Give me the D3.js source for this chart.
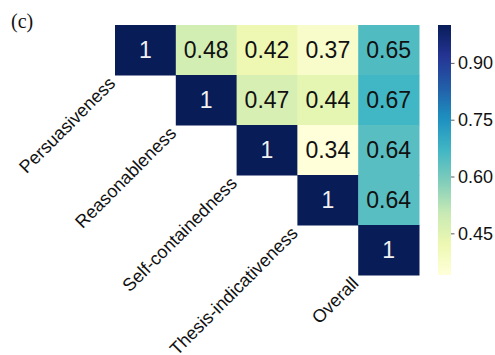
<!DOCTYPE html>
<html>
<head>
<meta charset="utf-8">
<script src="https://cdn.jsdelivr.net/npm/d3@7"></script>
<style>
  html, body { margin: 0; padding: 0; background: #fff; }
  svg { display: block; }
</style>
</head>
<body>
<svg id="chart" width="495" height="355"></svg>
<script>
// Criteria compared in the correlation matrix
const labels = ["Persuasiveness", "Reasonableness", "Self-containedness", "Thesis-indicativeness", "Overall"];

// Upper triangle of the correlation matrix, one row per criterion (starting at the diagonal)
const row0 = [1, 0.48, 0.42, 0.37, 0.65];
const row1 = [1, 0.47, 0.44, 0.67];
const row2 = [1, 0.34, 0.64];
const row3 = [1, 0.64];
const row4 = [1];
const rows = [row0, row1, row2, row3, row4];

// Colour bar
const colorTicks = [0.45, 0.60, 0.75, 0.90];
const vmin = 0.34, vmax = 1.0;

// YlGnBu, linear through the nine ColorBrewer anchors
const ylgnbu = ["#ffffd9","#edf8b1","#c7e9b4","#7fcdbb","#41b6c4","#1d91c0","#225ea8","#253494","#081d58"];
const color = d3.scaleLinear()
  .domain(ylgnbu.map((_, i) => vmin + (vmax - vmin) * i / (ylgnbu.length - 1)))
  .range(ylgnbu)
  .interpolate(d3.interpolateRgb)
  .clamp(true);

const svg = d3.select("#chart");

const plotL = 115, plotT = 25, plotR = 419, plotB = 275;
const x = d3.scaleBand().domain(d3.range(labels.length)).range([plotL, plotR]);
const y = d3.scaleBand().domain(d3.range(labels.length)).range([plotT, plotB]);

// Flatten the triangle into cells
const cells = [];
rows.forEach((r, i) => r.forEach((v, k) => cells.push({ i, j: i + k, v })));

const g = svg.append("g");
g.selectAll("rect.cell")
  .data(cells)
  .join("rect")
  .attr("class", "cell")
  .attr("x", d => x(d.j))
  .attr("y", d => y(d.i))
  .attr("width", x.bandwidth() + 0.5)
  .attr("height", y.bandwidth() + 0.5)
  .attr("fill", d => color(d.v));

g.selectAll("text.val")
  .data(cells)
  .join("text")
  .attr("class", "val")
  .attr("x", d => x(d.j) + x.bandwidth() / 2)
  .attr("y", d => y(d.i) + y.bandwidth() / 2)
  .attr("dy", "0.36em")
  .attr("text-anchor", "middle")
  .attr("font-family", "Liberation Sans, Arial, sans-serif")
  .attr("font-size", 23)
  .attr("fill", d => d.v > 0.8 ? "#f2f2f2" : "#111")
  .text(d => d.v === 1 ? "1" : d3.format(".2f")(d.v));

// Diagonal labels, rotated, ending at each diagonal cell's lower-left corner
g.selectAll("text.lab")
  .data(labels)
  .join("text")
  .attr("class", "lab")
  .attr("transform", (d, i) => `translate(${x(i) - 3},${y(i) + y.bandwidth() + 5}) rotate(-45)`)
  .attr("text-anchor", "end")
  .attr("dy", "0.35em")
  .attr("font-family", "Liberation Sans, Arial, sans-serif")
  .attr("font-size", 18)
  .attr("fill", "#111")
  .text(d => d);

// Colour bar
const cbX = 438, cbW = 13;
const cbScale = d3.scaleLinear().domain([vmin, vmax]).range([plotB, plotT]);
const defs = svg.append("defs");
const grad = defs.append("linearGradient")
  .attr("id", "cbgrad")
  .attr("x1", 0).attr("y1", 1).attr("x2", 0).attr("y2", 0);
d3.range(0, 1.0001, 0.02).forEach(t => {
  grad.append("stop")
    .attr("offset", t)
    .attr("stop-color", color(vmin + (vmax - vmin) * t));
});
svg.append("rect")
  .attr("x", cbX).attr("y", plotT)
  .attr("width", cbW).attr("height", plotB - plotT)
  .attr("fill", "url(#cbgrad)");

const cbAxis = d3.axisRight(cbScale)
  .tickValues(colorTicks)
  .tickFormat(d3.format(".2f"))
  .tickSize(3.5)
  .tickPadding(3.5);
const cbG = svg.append("g")
  .attr("transform", `translate(${cbX + cbW},0)`)
  .call(cbAxis);
cbG.select(".domain").remove();
cbG.selectAll(".tick line").attr("stroke", "#333").attr("stroke-width", 0.8);
cbG.selectAll(".tick text")
  .attr("font-family", "Liberation Sans, Arial, sans-serif")
  .attr("font-size", 18)
  .attr("fill", "#111");

// Panel tag
svg.append("text")
  .attr("x", 11).attr("y", 28)
  .attr("font-family", "Liberation Serif, Times New Roman, serif")
  .attr("font-size", 20)
  .attr("fill", "#111")
  .text("(c)");
</script>
</body>
</html>
